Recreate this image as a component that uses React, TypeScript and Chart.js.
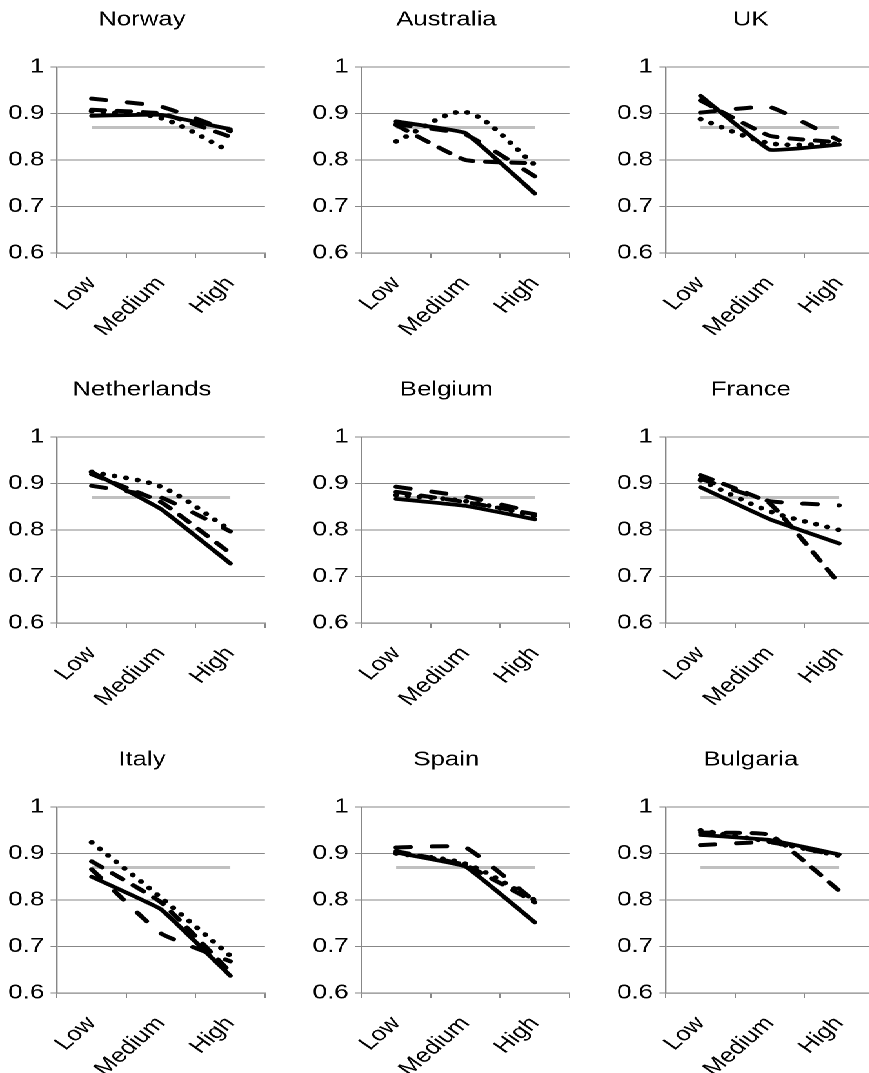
import React, { useEffect, useRef } from "react";
import { Chart, registerables } from "chart.js";

Chart.register(...registerables);

const categories = ["Low", "Medium", "High"];
const countries = ["Norway", "Australia", "UK", "Netherlands", "Belgium", "France", "Italy", "Spain", "Bulgaria"];

const solidValues = [
  [0.895, 0.897, 0.866],
  [0.883, 0.858, 0.728],
  [0.938, 0.822, 0.833],
  [0.925, 0.845, 0.728],
  [0.867, 0.852, 0.823],
  [0.892, 0.823, 0.771],
  [0.85, 0.78, 0.637],
  [0.902, 0.872, 0.752],
  [0.94, 0.929, 0.898],
];

const dashValues = [
  [0.908, 0.9, 0.85],
  [0.875, 0.8, 0.793],
  [0.928, 0.852, 0.838],
  [0.92, 0.86, 0.75],
  [0.882, 0.86, 0.834],
  [0.918, 0.857, 0.685],
  [0.883, 0.795, 0.645],
  [0.905, 0.875, 0.795],
  [0.945, 0.94, 0.82],
];

const longDashValues = [
  [0.932, 0.915, 0.862],
  [0.877, 0.855, 0.765],
  [0.902, 0.914, 0.842],
  [0.895, 0.87, 0.797],
  [0.893, 0.872, 0.838],
  [0.91, 0.862, 0.853],
  [0.866, 0.728, 0.668],
  [0.913, 0.913, 0.797],
  [0.918, 0.924, 0.895],
];

const dottedValues = [
  [0.905, 0.89, 0.818],
  [0.84, 0.903, 0.79],
  [0.888, 0.836, 0.835],
  [0.925, 0.893, 0.8],
  [0.875, 0.862, 0.83],
  [0.907, 0.84, 0.8],
  [0.924, 0.805, 0.68],
  [0.9, 0.878, 0.8],
  [0.95, 0.925, 0.895],
];

const referenceValue = 0.87;
const yTicks = [0.6, 0.7, 0.8, 0.9, 1];

const SCALE_X = 1.29;
const CANVAS_W = 220;
const CANVAS_H = 340;
const Y_AXIS_W = 44.2;
const PLOT_W = 161.2;
const colLeft = [0, 235.6, 472.1];
const rowTop = [0, 370, 740];
const FONT = { family: "'Liberation Sans', Arial, sans-serif", size: 20 };
const GRID = "#878787";

const lineBase = {
  borderColor: "#000",
  pointRadius: 0,
  borderCapStyle: "round",
  borderJoinStyle: "round",
};

function Panel({ index }: { index: number }) {
  const ref = useRef<HTMLCanvasElement | null>(null);
  useEffect(() => {
    if (!ref.current) return;
    const chart = new Chart(ref.current, {
      type: "line",
      data: {
        labels: categories,
        datasets: [
          { ...lineBase, data: solidValues[index], borderWidth: 3.8, tension: 0.08 },
          { ...lineBase, data: dashValues[index], borderWidth: 4, borderDash: [10, 10], tension: 0.12 },
          { ...lineBase, data: longDashValues[index], borderWidth: 4, borderDash: [11, 17], tension: 0.12 },
          { ...lineBase, data: dottedValues[index], borderWidth: 4.6, borderDash: [0.1, 9], tension: 0.3 },
          {
            data: categories.map(() => referenceValue),
            borderColor: "#c0c0c0",
            borderWidth: 3,
            pointRadius: 0,
            tension: 0,
          },
        ],
      },
      options: {
        responsive: false,
        animation: false,
        devicePixelRatio: 2,
        layout: { padding: 0 },
        plugins: {
          legend: { display: false },
          tooltip: { enabled: false },
          title: {
            display: true,
            text: countries[index],
            color: "#000",
            font: { ...FONT, weight: "normal" },
            padding: { top: 8, bottom: 35 },
          },
        },
        scales: {
          x: {
            type: "category",
            offset: true,
            grid: { offset: true, drawOnChartArea: false, drawTicks: true, tickLength: 5, color: GRID },
            border: { color: GRID, width: 1.2 },
            ticks: { minRotation: 48, maxRotation: 48, autoSkip: false, color: "#000", font: FONT, padding: 14 },
            afterFit: (s: any) => {
              s.height = CANVAS_H - 253;
            },
          },
          y: {
            min: 0.6,
            max: 1,
            afterBuildTicks: (s: any) => {
              s.ticks = yTicks.map((v) => ({ value: v }));
            },
            ticks: {
              color: "#000",
              font: FONT,
              padding: 5,
              callback: (v: any) => String(Number(Number(v).toFixed(1))),
            },
            grid: { color: GRID, tickLength: 5, lineWidth: 1 },
            border: { color: GRID, width: 1.2 },
            afterFit: (s: any) => {
              s.width = Y_AXIS_W;
            },
          },
          yRight: {
            position: "right",
            min: 0,
            max: 1,
            grid: { display: false },
            border: { display: false },
            ticks: { display: false },
            afterFit: (s: any) => {
              s.width = CANVAS_W - Y_AXIS_W - PLOT_W;
            },
          },
        },
      },
    } as any);
    return () => chart.destroy();
  }, [index]);
  const c = index % 3;
  const r = Math.floor(index / 3);
  return (
    <canvas
      ref={ref}
      width={CANVAS_W}
      height={CANVAS_H}
      style={{ position: "absolute", left: colLeft[c], top: rowTop[r], width: CANVAS_W, height: CANVAS_H }}
    />
  );
}

export default function App() {
  return (
    <div style={{ position: "absolute", left: 0, top: 0, width: 869, height: 1073, overflow: "hidden", background: "#fff" }}>
      <div
        style={{
          position: "absolute",
          left: 0,
          top: 0,
          width: 700,
          height: 1073,
          transform: `scale(${SCALE_X}, 1)`,
          transformOrigin: "0 0",
        }}
      >
        {countries.map((_, i) => (
          <Panel key={i} index={i} />
        ))}
      </div>
    </div>
  );
}
